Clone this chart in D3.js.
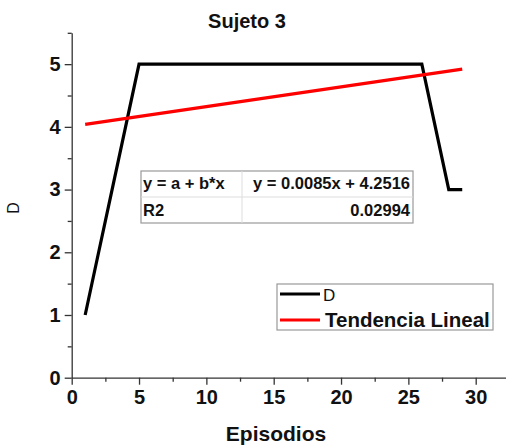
<!DOCTYPE html>
<html><head><meta charset="utf-8">
<script src="https://cdn.jsdelivr.net/npm/d3@7"></script>
<style>body{margin:0;background:#fff}svg{display:block}</style>
</head><body>
<script>
const episodes = [1,2,3,4,5,6,7,8,9,10,11,12,13,14,15,16,17,18,19,20,21,22,23,24,25,26,27,28,29];
const dValues  = [1,2,3,4,5,5,5,5,5,5,5,5,5,5,5,5,5,5,5,5,5,5,5,5,5,5,4,3,3];
const trendX = [1, 29];
const trendY = [4.04, 4.92];
const xTicks = [0,5,10,15,20,25,30];
const yTicks = [0,1,2,3,4,5];
const tableRows = [["y = a + b*x","y = 0.0085x + 4.2516"],["R2","0.02994"]];
const legendLabels = ["D","Tendencia Lineal"];

const W=506,H=445;
const svg=d3.select("body").append("svg").attr("width",W).attr("height",H);
const font="Arial, 'Liberation Sans', sans-serif";
const x=d3.scaleLinear().domain([0,32.25]).range([71.7,506]);
const y=d3.scaleLinear().domain([0,5.5]).range([377.7,32.8]);

// axes
const xAxis=svg.append("g").attr("transform",`translate(0,${y(0)})`)
  .call(d3.axisBottom(x).tickValues(xTicks).tickFormat(d3.format("d")).tickSize(7).tickSizeOuter(0).tickPadding(5));
xAxis.append("g").call(d3.axisBottom(x).tickValues([2.5,7.5,12.5,17.5,22.5,27.5]).tickSize(4).tickFormat(""))
  .select(".domain").remove();
const yAxis=svg.append("g").attr("transform",`translate(${x(0)},0)`)
  .call(d3.axisLeft(y).tickValues(yTicks).tickFormat(d3.format("d")).tickSize(7).tickSizeOuter(0).tickPadding(4));
yAxis.append("g").call(d3.axisLeft(y).tickValues([0.5,1.5,2.5,3.5,4.5,5.5]).tickSize(4).tickFormat(""))
  .select(".domain").remove();
svg.selectAll(".domain, .tick line").attr("stroke","#333").attr("stroke-width",1.3);
svg.selectAll(".tick text").attr("font-family",font).attr("font-size",20).attr("font-weight","bold").attr("fill","#111");

// series
const line=d3.line().x(d=>x(d[0])).y(d=>y(d[1]));
svg.append("path").datum(episodes.map((e,i)=>[e,dValues[i]]))
  .attr("d",line).attr("fill","none").attr("stroke","#000").attr("stroke-width",3.2).attr("stroke-linejoin","miter");
svg.append("path").datum(trendX.map((e,i)=>[e,trendY[i]]))
  .attr("d",line).attr("fill","none").attr("stroke","#ff0000").attr("stroke-width",3.2);

// title & labels
svg.append("text").attr("x",247).attr("y",28).attr("text-anchor","middle")
  .attr("font-family",font).attr("font-size",20).attr("font-weight","bold").attr("fill","#111").text("Sujeto 3");
svg.append("text").attr("x",276).attr("y",441).attr("text-anchor","middle")
  .attr("font-family",font).attr("font-size",21).attr("font-weight","bold").attr("fill","#111").text("Episodios");
svg.append("text").attr("transform","translate(19,208) rotate(-90)").attr("text-anchor","middle")
  .attr("font-family",font).attr("font-size",16).attr("fill","#111").text("D");

// table
const tx0=141,tx1=242,tx2=413,ty0=171,ty1=197,ty2=223;
const tg=svg.append("g");
tg.append("rect").attr("x",tx0).attr("y",ty0).attr("width",tx2-tx0).attr("height",ty2-ty0)
  .attr("fill","#fff").attr("stroke","#999").attr("stroke-width",1.2);
tg.append("line").attr("x1",tx0).attr("x2",tx2).attr("y1",ty1).attr("y2",ty1).attr("stroke","#ddd");
tg.append("line").attr("x1",tx1).attr("x2",tx1).attr("y1",ty0).attr("y2",ty2).attr("stroke","#ddd");
tableRows.forEach((r,i)=>{
  const by=i===0?189:216;
  tg.append("text").attr("x",tx0+2).attr("y",by).attr("font-family",font).attr("font-size",16.5)
    .attr("font-weight","bold").attr("fill","#111").text(r[0]);
  tg.append("text").attr("x",tx2-3).attr("y",by).attr("text-anchor","end").attr("font-family",font).attr("font-size",16.5)
    .attr("font-weight","bold").attr("fill","#111").text(r[1]);
});

// legend
const lg=svg.append("g");
lg.append("rect").attr("x",277).attr("y",284).attr("width",216).attr("height",46)
  .attr("fill","#fff").attr("stroke","#999").attr("stroke-width",1.2);
lg.append("line").attr("x1",280).attr("x2",320).attr("y1",294).attr("y2",294).attr("stroke","#000").attr("stroke-width",3.2);
lg.append("line").attr("x1",280).attr("x2",320).attr("y1",320).attr("y2",320).attr("stroke","#ff0000").attr("stroke-width",3.2);
lg.append("text").attr("x",323).attr("y",301).attr("font-family",font).attr("font-size",17).attr("fill","#111").text(legendLabels[0]);
lg.append("text").attr("x",325).attr("y",327).attr("font-family",font).attr("font-size",20.5).attr("font-weight","bold").attr("fill","#111").text(legendLabels[1]);
</script>
</body></html>
